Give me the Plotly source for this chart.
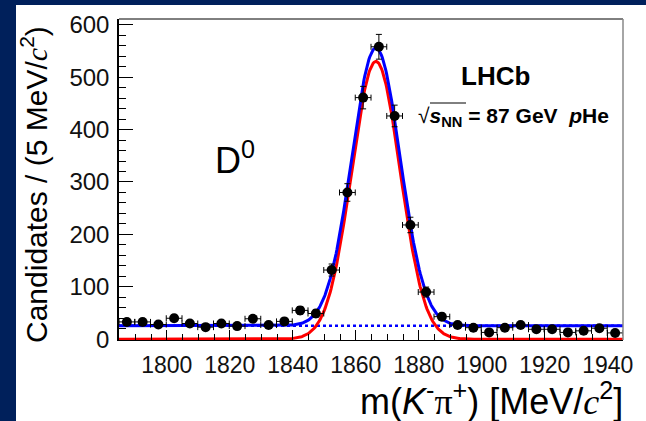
import numpy as np
import plotly.graph_objects as go

# D0 -> K- pi+ invariant-mass spectrum, 5 MeV bins
mass_bins = [1787.34, 1792.34, 1797.34, 1802.34, 1807.34, 1812.34, 1817.34, 1822.34,
             1827.34, 1832.34, 1837.34, 1842.34, 1847.34, 1852.34, 1857.34, 1862.34,
             1867.34, 1872.34, 1877.34, 1882.34, 1887.34, 1892.34, 1897.34, 1902.34,
             1907.34, 1912.34, 1917.34, 1922.34, 1927.34, 1932.34, 1937.34, 1942.34]
candidates = [33, 33, 28, 40, 30, 23, 30, 25, 39, 27, 34, 55, 49, 132, 280, 461,
              558, 426, 218, 90, 43, 27, 22, 13, 22, 27, 19, 19, 13, 16, 21, 12]
bin_half_width = 2.5

# fit model parameters (Gaussian signal + flat background)
fit_mean = 1866.4
fit_sigma = 7.7
fit_peak = 530.0
fit_bkg = 25.5
mass_range = [1784.84, 1944.84]

x_tick_vals = [1800, 1820, 1840, 1860, 1880, 1900, 1920, 1940]
y_tick_vals = [0, 100, 200, 300, 400, 500, 600]

NAVY = "#00205b"
FONT = "Liberation Sans, Arial, sans-serif"
SERIF = "font-family:'Liberation Serif'"

m = np.linspace(mass_range[0], mass_range[1], 600)
sig = fit_peak * np.exp(-0.5 * ((m - fit_mean) / fit_sigma) ** 2)
bkg = np.full_like(m, fit_bkg)
tot = sig + bkg

err_y = [float(np.sqrt(n)) for n in candidates]

fig = go.Figure()
fig.add_trace(go.Scatter(x=m, y=bkg, mode="lines",
                         line=dict(color="#0000ff", width=2.5, dash="dot"),
                         hoverinfo="skip"))
fig.add_trace(go.Scatter(x=m, y=sig, mode="lines",
                         line=dict(color="#ff0000", width=3), hoverinfo="skip"))
fig.add_trace(go.Scatter(x=m, y=tot, mode="lines",
                         line=dict(color="#0000ff", width=3), hoverinfo="skip"))
fig.add_trace(go.Scatter(
    x=mass_bins, y=candidates, mode="markers",
    marker=dict(color="black", size=10),
    error_y=dict(type="data", array=err_y, color="black", thickness=1, width=3),
    error_x=dict(type="constant", value=bin_half_width, color="black", thickness=1, width=3),
))

L, R, T, B = 119, 23, 19, 81
W, H = 646, 421
pw, ph = W - L - R, H - T - B


def px_x(x):
    return (x - L) / pw


def px_y(y):
    return (H - B - y) / ph


shapes = [
    # white panel on the navy page
    dict(type="rect", xref="paper", yref="paper", x0=px_x(16), x1=px_x(W + 5),
         y0=px_y(H + 5), y1=px_y(5), fillcolor="white", line=dict(width=0), layer="below"),
    # top and right frame
    dict(type="line", xref="paper", yref="paper", x0=0, x1=1, y0=1, y1=1,
         line=dict(color="black", width=1)),
    dict(type="line", xref="paper", yref="paper", x0=1, x1=1, y0=0, y1=1,
         line=dict(color="#888888", width=1.5)),
    # overline of the square root
    dict(type="line", xref="paper", yref="paper", x0=px_x(430), x1=px_x(466),
         y0=px_y(103), y1=px_y(103), line=dict(color="black", width=1)),
]

annotations = [
    dict(text=f"Candidates / (5 MeV/<span style=\"{SERIF}\"><i>c</i></span><sup>2</sup>)",
         xref="paper", yref="paper", x=px_x(34), y=px_y(185), textangle=-90,
         showarrow=False, font=dict(family=FONT, size=30, color="black"),
         xanchor="center", yanchor="middle"),
    dict(text=f"m(<i>K</i><sup>-</sup><span style=\"{SERIF}\">π</span><sup>+</sup>) [MeV/<span style=\"{SERIF}\"><i>c</i></span><sup>2</sup>]",
         xref="paper", yref="paper", x=px_x(625), y=px_y(399),
         showarrow=False, font=dict(family=FONT, size=36, color="black"),
         xanchor="right", yanchor="middle"),
    dict(text="D<sup>0</sup>", xref="paper", yref="paper", x=px_x(213), y=px_y(158),
         showarrow=False, font=dict(family=FONT, size=36, color="black"),
         xanchor="left", yanchor="middle"),
    dict(text="<b>LHCb</b>", xref="paper", yref="paper", x=px_x(495), y=px_y(76),
         showarrow=False, font=dict(family=FONT, size=26, color="black"),
         xanchor="center", yanchor="middle"),
    dict(text="√<b><i>s</i></b><sub><b>NN</b></sub><b> = 87 GeV  <i>p</i>He</b>",
         xref="paper", yref="paper", x=px_x(416), y=px_y(117),
         showarrow=False, font=dict(family=FONT, size=21, color="black"),
         xanchor="left", yanchor="middle"),
]

fig.update_layout(
    width=W, height=H,
    margin=dict(l=L, r=R, t=T, b=B, pad=0),
    paper_bgcolor=NAVY, plot_bgcolor="white",
    showlegend=False,
    shapes=shapes, annotations=annotations,
    font=dict(family=FONT, color="black"),
)
fig.update_xaxes(
    range=mass_range, tickvals=x_tick_vals, ticks="inside", ticklen=10, tickwidth=1,
    tickcolor="black", showline=True, linecolor="black", linewidth=1,
    showgrid=False, zeroline=False, tickfont=dict(family=FONT, size=23, color="#111"),
    ticklabelstandoff=4,
    minor=dict(dtick=5, tick0=1785, ticks="inside", ticklen=6, tickcolor="black", showgrid=False),
)
fig.update_yaxes(
    range=[-1.5, 611], tickvals=y_tick_vals, ticks="inside", ticklen=14, tickwidth=1,
    tickcolor="black", showline=True, linecolor="black", linewidth=1.5,
    showgrid=False, zeroline=False, tickfont=dict(family=FONT, size=24, color="#111"),
    ticklabelstandoff=3,
    minor=dict(dtick=20, tick0=0, ticks="inside", ticklen=7, tickcolor="black", showgrid=False),
)

fig.write_html("out.html")
